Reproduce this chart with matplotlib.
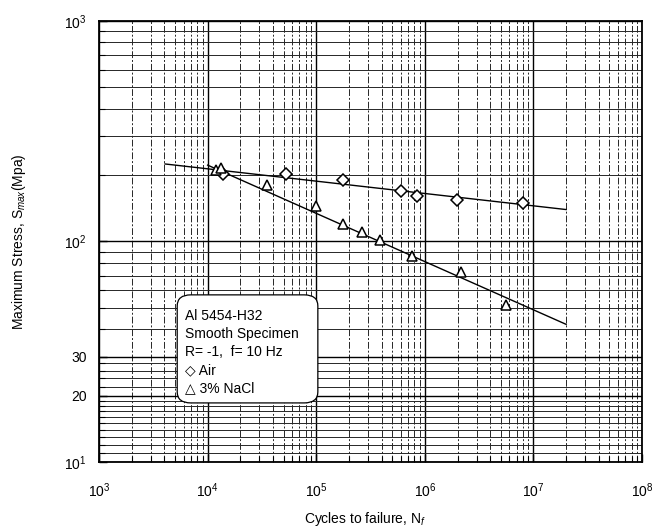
import numpy as np
import matplotlib
matplotlib.use('Agg')
from matplotlib import pyplot as plt
from matplotlib.patches import FancyBboxPatch
from matplotlib.ticker import FixedLocator, NullFormatter

plt.rcParams['font.family'] = ['Liberation Sans', 'DejaVu Sans']
plt.rcParams['mathtext.fontset'] = 'custom'
plt.rcParams['mathtext.rm'] = 'Liberation Sans'
plt.rcParams['mathtext.it'] = 'Liberation Sans:italic'

# Air (diamonds)
air_n = [13800, 52400, 175000, 600000, 847000, 1.97e6, 7.97e6]
air_s = [202, 202, 191, 170, 160, 154, 150]
# 3% NaCl (triangles)
nacl_n = [11900, 13200, 35000, 98900, 175000, 264000, 387000, 757000, 2.14e6, 5.56e6]
nacl_s = [212, 215, 181, 145, 120, 110, 102, 86, 72.5, 51.5]

# fitted lines, end points
air_fit_n = [4050, 2e7]
air_fit_s = [224.7, 139.6]
nacl_fit_n = [1e4, 2e7]
nacl_fit_s = [222, 42.1]

legend_lines = ['Al 5454-H32', 'Smooth Specimen', 'R= -1,  f= 10 Hz',
                '\u25c7 Air', '\u25b3 3% NaCl']

fig = plt.figure(figsize=(6.54, 5.31), dpi=100)
ax = fig.add_axes([0.1514, 0.1299, 0.8303, 0.8306])
ax.set_xscale('log')
ax.set_yscale('log')
ax.set_xlim(1e3, 1e8)
ax.set_ylim(10, 1000)

# grid
xminor = [m * 10.0 ** d for d in range(3, 8) for m in range(2, 10)]
yminor = list(range(11, 21)) + [22, 24, 26, 28] + list(range(30, 100, 10)) + list(range(200, 1000, 100))
ax.xaxis.set_minor_locator(FixedLocator(xminor))
ax.yaxis.set_minor_locator(FixedLocator(yminor))
ax.xaxis.set_minor_formatter(NullFormatter())
ax.yaxis.set_minor_formatter(NullFormatter())
ax.set_yticks([10, 20, 30, 100, 1000])
ax.set_yticklabels(['$10^{1}$', '20', '30', '$10^{2}$', '$10^{3}$'])
ax.set_xticks([1e3, 1e4, 1e5, 1e6, 1e7, 1e8])
ax.set_xticklabels(['$10^{%d}$' % d for d in range(3, 9)])

ax.grid(True, which='major', color='black', lw=1.0)
ax.xaxis.grid(True, which='minor', color='0.15', lw=0.7, linestyle=(0, (7, 2, 2, 2)))
ax.yaxis.grid(True, which='minor', color='0.15', lw=0.7)
ax.set_axisbelow(True)
ax.tick_params(which='both', direction='in', top=False, right=False)
ax.tick_params(which='major', length=6, width=1.0, labelsize=10)
ax.tick_params(axis='x', which='major', pad=14)
ax.tick_params(axis='y', which='major', pad=9)
ax.tick_params(which='minor', length=4, width=0.8)
for sp in ax.spines.values():
    sp.set_linewidth(1.3)

ax.plot(air_fit_n, air_fit_s, color='black', lw=1.0, zorder=3)
ax.plot(nacl_fit_n, nacl_fit_s, color='black', lw=1.0, zorder=3)
ax.plot(air_n, air_s, linestyle='none', marker='D', ms=6.5, mfc='white', mec='black', mew=1.1, zorder=4)
ax.plot(nacl_n, nacl_s, linestyle='none', marker='^', ms=7.5, mfc='white', mec='black', mew=1.1, zorder=4)

box = FancyBboxPatch((0.144, 0.134), 0.259, 0.245, boxstyle='round,pad=0,rounding_size=0.025',
                     transform=ax.transAxes, facecolor='white', edgecolor='black', lw=0.9, zorder=5)
ax.add_patch(box)
ys = [0.331, 0.290, 0.249, 0.209, 0.168]
for t, y in zip(legend_lines, ys):
    ax.text(0.158, y, t, transform=ax.transAxes, va='center', ha='left', fontsize=10, zorder=6,
            family=['Liberation Sans', 'DejaVu Sans'])

ax.set_xlabel('Cycles to failure, N$_f$', fontsize=10)
ax.xaxis.set_label_coords(0.49, -0.108)
ax.set_ylabel('Maximum Stress, S$_{max}$(Mpa)', fontsize=10)
ax.yaxis.set_label_coords(-0.131, 0.5)

fig.savefig('out.png', dpi=100)
